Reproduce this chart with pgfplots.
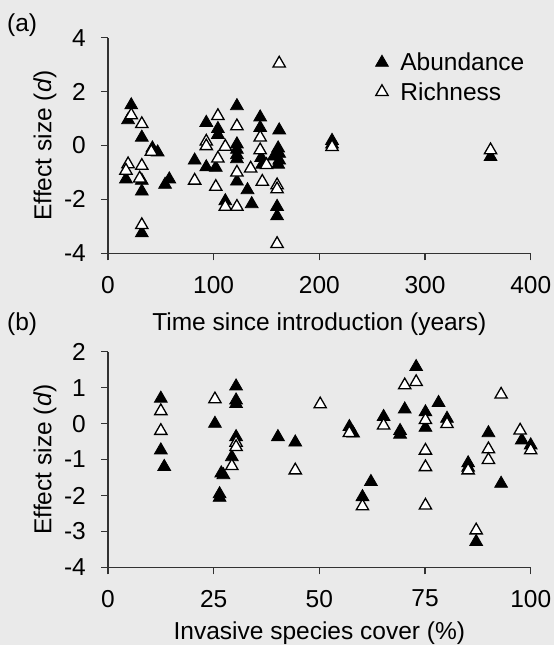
\documentclass[border=0pt]{standalone}
\usepackage{fontspec}
\setmainfont{Liberation Sans}
\usepackage{pgfplots}
\pgfplotsset{compat=1.18}
\definecolor{bg}{RGB}{234,234,234}
\definecolor{axc}{RGB}{50,50,50}
\pgfplotsset{
  myax/.style={
    scale only axis, width=422.7pt, height=215.5pt,
    anchor=south west,
    axis lines=left,
    axis line style={-, line width=1.4pt, draw=axc},
    tick align=outside, major tick length=7pt,
    tick style={line width=1.2pt, draw=axc},
    font=\fontsize{24.5}{29}\selectfont,
    /pgf/number format/assume math mode=true,
    xticklabel style={anchor=north, inner sep=0pt, yshift=-15.5pt},
    yticklabel style={anchor=east, inner sep=0pt, xshift=-15pt},
    every axis y label/.style={at={(axis description cs:-0.149,0.5)}, rotate=90, anchor=center},
    clip=false,
  },
  abund/.style={only marks, mark=triangle*, mark size=7.4pt, mark options={fill=black, draw=black, line width=0.8pt}},
  rich/.style={only marks, mark=triangle*, mark size=7.1pt, mark options={fill=white, draw=black, line width=1.3pt}},
}
\begin{document}
\begin{tikzpicture}[x=1pt,y=1pt]
\fill[bg] (0pt,0pt) rectangle (554pt,645pt);
\node[anchor=base west, inner sep=0pt, font=\fontsize{24.5}{29}\selectfont] at (7pt,613.3pt) {(a)};
\node[anchor=base west, inner sep=0pt, font=\fontsize{24.5}{29}\selectfont] at (7pt,314pt) {(b)};
\begin{axis}[myax, at={(108pt,391.7pt)},
  xmin=0, xmax=400, ymin=-4, ymax=4,
  xtick={0,100,200,300,400}, ytick={-4,-2,0,2,4},
  xlabel={Time since introduction (years)},
  xlabel style={at={(axis description cs:0.5,-0.36)}, anchor=base},
  ylabel={Effect size (\textit{d})},
  legend style={draw=none, fill=none, at={(axis description cs:0.6325,0.935)}, anchor=north west,
    inner sep=0pt, row sep=8pt, font=\fontsize{24.5}{29}\selectfont,
    nodes={inner sep=1pt}, /tikz/every odd column/.append style={column sep=11pt}},
  legend cell align=left,
]
\addplot[abund] coordinates {
(22,1.50) (19,0.95) (32,0.30) (42,-0.10) (47,-0.25) (17,-1.25) (32,-1.30) (32,-1.70)
(58,-1.25) (54,-1.45) (32,-3.25) (82,-0.55) (93,0.85) (104,0.62) (104,0.40) (93,-0.80)
(102,-0.82) (111,-2.06) (122,1.47) (122,0.05) (122,-0.15) (122,-0.35) (122,-0.50) (122,-1.33)
(132,-1.65) (136,-2.17) (144,1.05) (144,0.66) (145,-0.45) (146,-0.70) (157,-0.40) (161,-0.10)
(162,-0.30) (162,-0.55) (161,-0.70) (162,0.57) (160,-2.27) (160,-2.62) (212,0.18) (212,0.05)
(362,-0.42)
};
\addlegendentry{Abundance}
\addplot[rich] coordinates {
(22,1.13) (32,0.80) (41,-0.23) (19,-0.69) (17,-0.93) (32,-0.75) (30,-1.22) (32,-2.95)
(82,-1.30) (93,0.15) (93,-0.02) (104,1.10) (111,-0.04) (104,-0.48) (102,-1.53) (111,-2.27)
(122,-2.27) (122,0.72) (122,-1.00) (135,-0.85) (144,0.30) (144,-0.17) (150,-0.72) (146,-1.34)
(160,-1.47) (160,-1.62) (162,3.05) (160,-3.65) (212,-0.05) (362,-0.17)
};
\addlegendentry{Richness}
\end{axis}
\begin{axis}[myax, at={(108pt,77.7pt)},
  xmin=0, xmax=100, ymin=-4, ymax=2,
  xtick={0,25,50,75,100}, ytick={-4,-3,-2,-1,0,1,2},
  xlabel={Invasive species cover (\%)},
  xlabel style={at={(axis description cs:0.5,-0.337)}, anchor=base},
  ylabel={Effect size (\textit{d})},
]
\addplot[abund] coordinates {
(12.5,0.70) (12.5,-0.74) (13.3,-1.20) (25.3,0.00) (30.3,1.04) (30.3,0.65) (30.3,0.55) (30.3,-0.37)
(29.3,-0.93) (27.3,-1.43) (26.8,-1.38) (26.4,-1.96) (26.4,-2.06) (40.2,-0.37) (44.3,-0.52)
(57.1,-0.09) (58,-0.27) (65.2,0.19) (70.2,0.40) (72.9,1.58) (69.1,-0.20) (69.1,-0.30)
(62.2,-1.62) (60.2,-2.04) (78.2,0.58) (75.1,0.32) (75.1,-0.11) (80.2,0.14) (90,-0.26)
(85.2,-1.10) (85.2,-1.22) (93,-1.67) (97.9,-0.46) (100,-0.60) (87.1,-3.29)
};
\addplot[rich] coordinates {
(12.5,0.35) (12.5,-0.20) (25.3,0.68) (30.3,-0.53) (30.3,-0.65) (29.3,-1.18) (44.3,-1.30)
(50.2,0.54) (57.1,-0.26) (65.2,-0.05) (70.2,1.07) (72.9,1.16) (75.1,0.10) (80.2,-0.01)
(75.1,-0.75) (75.1,-1.21) (75.1,-2.28) (60.2,-2.30) (93,0.81) (90,-0.71) (90,-1.01)
(85.2,-1.30) (97.5,-0.19) (100,-0.74) (87.1,-2.97)
};
\end{axis}
\pgfresetboundingbox
\useasboundingbox (0pt,0pt) rectangle (554pt,645pt);
\end{tikzpicture}
\end{document}
